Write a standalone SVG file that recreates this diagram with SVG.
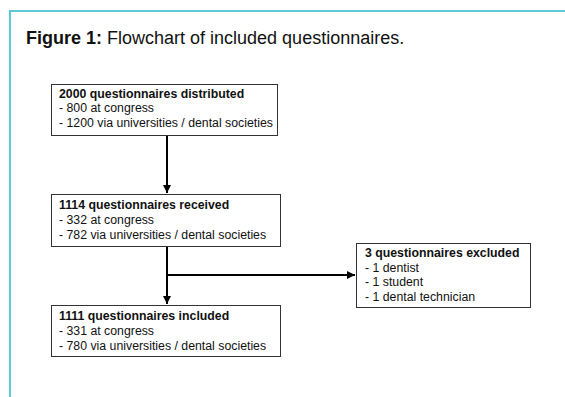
<svg xmlns="http://www.w3.org/2000/svg" width="565" height="397" viewBox="0 0 565 397">
<defs>
<style>
.frame{fill:none;stroke:#5ccad9;stroke-width:2}
.box{fill:#fff;stroke:#333;stroke-width:1}
.t{font-family:"Liberation Sans",Arial,sans-serif;font-size:12.3px;fill:#111}
.b{font-weight:bold}
.title{font-family:"Liberation Sans",Arial,sans-serif;font-size:18px;fill:#111}
.conn{fill:none;stroke:#000;stroke-width:2}
</style>
<marker id="arr" viewBox="0 0 10 10" refX="10" refY="5" markerWidth="4" markerHeight="4" orient="auto" markerUnits="strokeWidth">
<path d="M0,0 L10,5 L0,10 z" fill="#000"/>
</marker>
</defs>
<rect width="565" height="397" fill="#fff"/>
<path class="frame" d="M10,397 V11 H565"/>
<text class="title" x="26" y="44"><tspan font-weight="bold">Figure 1:</tspan> Flowchart of included questionnaires.</text>
<g id="connectors">
<line class="conn" x1="167" y1="135" x2="167" y2="193" marker-end="url(#arr)"/>
<line class="conn" x1="167" y1="246" x2="167" y2="304" marker-end="url(#arr)"/>
<line class="conn" x1="167" y1="275" x2="355" y2="275" marker-end="url(#arr)"/>
</g>
<g id="node1">
<rect class="box" x="51.5" y="84.5" width="226" height="51"/>
<text class="t b" x="59" y="98">2000 questionnaires distributed</text>
<text class="t" x="59" y="112">- 800 at congress</text>
<text class="t" x="59" y="127">- 1200 via universities / dental societies</text>
</g>
<g id="node2">
<rect class="box" x="51.5" y="194.5" width="229" height="52"/>
<text class="t b" x="59" y="208.5">1114 questionnaires received</text>
<text class="t" x="59" y="223.5">- 332 at congress</text>
<text class="t" x="59" y="238.5">- 782 via universities / dental societies</text>
</g>
<g id="node3">
<rect class="box" x="51.5" y="305.5" width="229" height="51"/>
<text class="t b" x="59" y="320">1111 questionnaires included</text>
<text class="t" x="59" y="335">- 331 at congress</text>
<text class="t" x="59" y="349.5">- 780 via universities / dental societies</text>
</g>
<g id="node4">
<rect class="box" x="356.5" y="243.5" width="174" height="64"/>
<text class="t b" x="365" y="257">3 questionnaires excluded</text>
<text class="t" x="365" y="271.5">- 1 dentist</text>
<text class="t" x="365" y="286">- 1 student</text>
<text class="t" x="365" y="301">- 1 dental technician</text>
</g>
</svg>
